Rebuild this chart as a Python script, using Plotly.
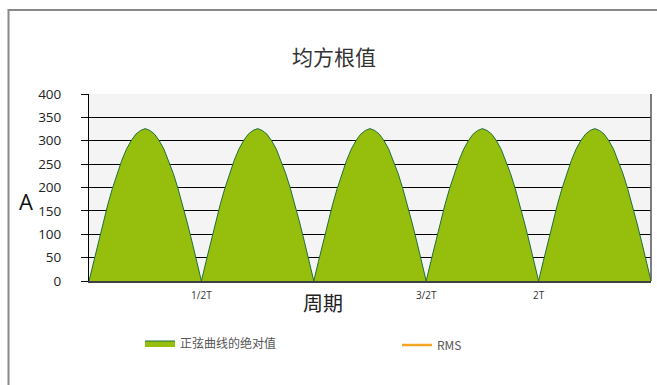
import plotly.graph_objects as go

# One half-cycle of |sin| sampled every 7.5 degrees (amps)
half_wave = [0, 42, 84, 124, 163, 198, 230, 258, 282, 300, 314, 322, 326,
             322, 314, 300, 282, 258, 230, 198, 163, 124, 84, 42, 0]
n_half_cycles = 5
tick_positions = [1, 3, 4]
tick_labels = ["1/2T", "3/2T", "2T"]
y_ticks = [0, 50, 100, 150, 200, 250, 300, 350, 400]

steps = len(half_wave) - 1
xs, ys = [], []
for k in range(n_half_cycles):
    for i, v in enumerate(half_wave):
        if k > 0 and i == 0:
            continue
        xs.append(k + i / steps)
        ys.append(v)

fig = go.Figure()
fig.add_trace(go.Scatter(
    x=xs, y=ys, mode="lines", fill="tozeroy",
    fillcolor="#96bf0d", line=dict(color="#1f6e3c", width=1),
    name="正弦曲线的绝对值", legend="legend",
))
fig.add_trace(go.Scatter(
    x=[None], y=[None], mode="lines",
    line=dict(color="#f5a623", width=2.5), name="RMS", legend="legend2",
))

W, H = 657, 385
L, R, T, B = 89, 6, 94, 104
pw, ph = W - L - R, H - T - B


def px(x):
    return (x - L) / pw


def py(y):
    return (H - B - y) / ph


legend_font = dict(family="Noto Sans CJK SC", size=12, color="#555555")

fig.update_layout(
    width=W, height=H,
    margin=dict(l=L, r=R, t=T, b=B),
    paper_bgcolor="white", plot_bgcolor="#f4f4f4",
    font=dict(family="Open Sans, Noto Sans CJK SC", color="#333333"),
    title=dict(text="均方根值", xref="container", x=334 / W,
               xanchor="center", yref="container", y=1 - 58 / H,
               yanchor="middle",
               font=dict(family="Noto Sans CJK SC", size=21, color="#333333")),
    xaxis=dict(range=[0, n_half_cycles], tickvals=tick_positions,
               ticktext=tick_labels, showgrid=False, zeroline=False,
               showline=True, linecolor="#404040", linewidth=1.5,
               ticks="", ticklabelstandoff=4,
               tickfont=dict(size=10, color="#333333")),
    yaxis=dict(range=[0, 400], tickvals=y_ticks, showgrid=True,
               gridcolor="#000000", gridwidth=1, zeroline=False,
               showline=True, linecolor="#000000", linewidth=1,
               ticks="outside", ticklen=7, tickcolor="#000000",
               ticklabelstandoff=17,
               tickfont=dict(size=13.5, color="#222222")),
    legend=dict(x=px(140), y=py(343), yanchor="middle", xanchor="left",
                font=legend_font, bgcolor="rgba(0,0,0,0)"),
    legend2=dict(x=px(397), y=py(345), yanchor="middle", xanchor="left",
                 font=legend_font, bgcolor="rgba(0,0,0,0)"),
    showlegend=True,
    annotations=[
        dict(text="A", xref="paper", yref="paper", x=px(26), y=py(201),
             xanchor="center", yanchor="middle", showarrow=False,
             font=dict(family="Open Sans", size=22, color="#111111")),
        dict(text="周期", xref="paper", yref="paper", x=px(323), y=py(302),
             xanchor="center", yanchor="middle", showarrow=False,
             font=dict(family="Noto Sans CJK SC", size=20, color="#222222")),
    ],
    shapes=[
        # chart frame
        dict(type="rect", xref="paper", yref="paper",
             x0=px(8.5), x1=px(720), y0=py(420), y1=py(10),
             line=dict(color="#888888", width=2), layer="below"),
        # right edge of the plot area
        dict(type="line", xref="paper", yref="paper", x0=1, x1=1, y0=0, y1=1,
             line=dict(color="#555555", width=1.5)),
    ],
)

fig.write_html("out.html")
